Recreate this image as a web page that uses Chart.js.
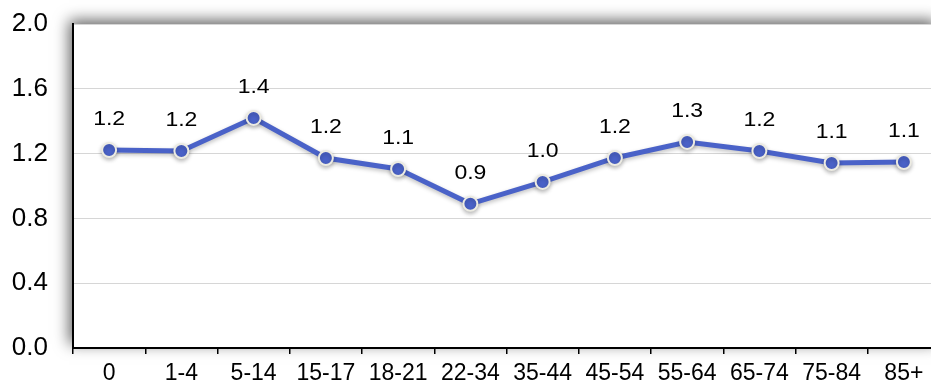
<!DOCTYPE html>
<html lang="en">
<head>
    <meta charset="UTF-8">
    <title>Line chart by age group</title>
    <script src="https://cdn.jsdelivr.net/npm/chart.js"></script>
    <style>
        html, body {
            margin: 0;
            padding: 0;
            background: #fff;
            overflow: hidden;
        }
        /* the plot runs a few pixels past the right edge in the original */
        #wrap {
            width: 931px;
            height: 387px;
            overflow: hidden;
        }
    </style>
</head>
<body>
    <div id="wrap">
        <canvas id="chart" width="949" height="387"></canvas>
    </div>

    <script>
        const ageGroups = ['0', '1-4', '5-14', '15-17', '18-21', '22-34', '35-44', '45-54', '55-64', '65-74', '75-84', '85+'];
        const values = [1.222, 1.216, 1.42, 1.173, 1.105, 0.89, 1.025, 1.173, 1.272, 1.216, 1.142, 1.148];
        const yTicks = [0, 0.4, 0.8, 1.2, 1.6, 2.0];

        const lineColor = '#4a62c8';
        const fontFamily = '"Liberation Sans", Arial, sans-serif';

        // white plot box with a soft shadow behind it
        const boxShadow = {
            id: 'boxShadow',
            beforeDraw(chart) {
                const { ctx, chartArea: a } = chart;
                ctx.save();
                ctx.shadowColor = 'rgba(0,0,0,0.6)';
                ctx.shadowBlur = 14;
                ctx.shadowOffsetX = -4;
                ctx.shadowOffsetY = -4;
                ctx.fillStyle = '#fff';
                ctx.fillRect(a.left, a.top, a.right - a.left, a.bottom - a.top);
                ctx.restore();
            }
        };

        // slight shadow under line and points
        const lineShadow = {
            id: 'lineShadow',
            beforeDatasetsDraw(chart) {
                const ctx = chart.ctx;
                ctx.save();
                ctx.shadowColor = 'rgba(0,0,0,0.25)';
                ctx.shadowBlur = 4;
                ctx.shadowOffsetY = 2;
            },
            afterDatasetsDraw(chart) {
                chart.ctx.restore();
            }
        };

        const valueLabels = {
            id: 'valueLabels',
            afterDatasetsDraw(chart) {
                const ctx = chart.ctx;
                const meta = chart.getDatasetMeta(0);
                ctx.save();
                ctx.font = '20px ' + fontFamily;
                ctx.fillStyle = '#000';
                ctx.textAlign = 'center';
                ctx.textBaseline = 'alphabetic';
                meta.data.forEach((pt, i) => {
                    ctx.save();
                    ctx.translate(pt.x, pt.y - 25);
                    ctx.scale(1.15, 1);
                    ctx.fillText(values[i].toFixed(1), 0, 0);
                    ctx.restore();
                });
                ctx.restore();
            }
        };

        new Chart(document.getElementById('chart').getContext('2d'), {
            type: 'line',
            data: {
                labels: ageGroups,
                datasets: [{
                    data: values,
                    borderColor: lineColor,
                    borderWidth: 5,
                    backgroundColor: lineColor,
                    pointBackgroundColor: lineColor,
                    pointBorderColor: '#ecebe2',
                    pointBorderWidth: 2,
                    pointRadius: 7,
                    tension: 0,
                    fill: false
                }]
            },
            options: {
                responsive: false,
                animation: false,
                layout: { padding: { top: 24, right: 1, left: 0, bottom: 0 } },
                plugins: {
                    legend: { display: false },
                    tooltip: { enabled: false }
                },
                scales: {
                    x: {
                        offset: true,
                        grid: {
                            offset: true,
                            drawOnChartArea: false,
                            drawTicks: true,
                            tickLength: 6,
                            color: '#000',
                            lineWidth: 1.5
                        },
                        border: { color: '#000', width: 2 },
                        ticks: {
                            color: '#000',
                            padding: 6,
                            maxRotation: 0,
                            autoSkip: false,
                            font: { family: fontFamily, size: 23 }
                        },
                        afterFit(scale) {
                            scale.height = 39;
                            scale.paddingLeft = 0;
                            scale.paddingRight = 0;
                        }
                    },
                    y: {
                        min: 0,
                        max: 2.0,
                        afterBuildTicks(scale) {
                            scale.ticks = yTicks.map(v => ({ value: v }));
                        },
                        grid: {
                            color: '#d6d6d6',
                            lineWidth: 1,
                            drawTicks: false
                        },
                        border: { color: '#000', width: 2 },
                        ticks: {
                            color: '#000',
                            padding: 25,
                            callback: v => v.toFixed(1),
                            font: { family: fontFamily, size: 26 }
                        },
                        afterFit(scale) {
                            scale.width = 73;
                            scale.paddingTop = 0;
                            scale.paddingBottom = 0;
                        }
                    }
                }
            },
            plugins: [boxShadow, lineShadow, valueLabels]
        });
    </script>
</body>
</html>
